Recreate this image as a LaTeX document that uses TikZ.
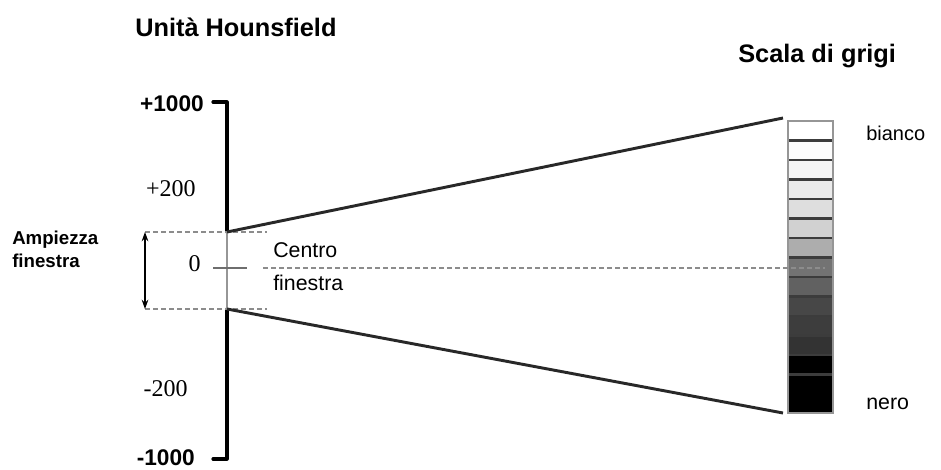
\documentclass[tikz,border=0pt]{standalone}
\usepackage{fontspec}
\setmainfont{Liberation Serif}
\setsansfont{Liberation Sans}
\usetikzlibrary{arrows.meta}

\tikzset{
  titlelabel/.style={font=\sffamily\bfseries\fontsize{19}{22}\selectfont, inner sep=0pt},
  hulabel/.style={font=\sffamily\bfseries\fontsize{17}{20}\selectfont, inner sep=0pt},
  numlabel/.style={font=\rmfamily\fontsize{18}{21}\selectfont, inner sep=0pt},
  smalllabel/.style={font=\sffamily\fontsize{16}{19}\selectfont, inner sep=0pt},
  axisline/.style={line width=2.4pt, line cap=round, line join=round},
  fanline/.style={line width=2.2pt, color={rgb,255:red,40;green,40;blue,40}},
  windowline/.style={dashed, dash pattern=on 4pt off 2pt, line width=0.9pt, color={rgb,255:red,140;green,140;blue,140}},
  graycell/.style={draw={rgb,255:red,60;green,60;blue,60}, line width=1.8pt}
}

\begin{document}
\begin{tikzpicture}[x=0.75pt,y=0.75pt,yscale=-1,xscale=1]
\useasboundingbox (0,0) rectangle (941,470);

%Titles
\node[titlelabel, anchor=base west] (hutitle) at (135,37) {Unità Hounsfield};
\node[titlelabel, anchor=base west] (graytitle) at (738,63) {Scala di grigi};

%Axis points
\coordinate (axtop) at (227,102);
\coordinate (axbot) at (227,459);
\coordinate (wtop) at (227,232);
\coordinate (wbot) at (227,309);
\coordinate (hooktop) at (213,102);
\coordinate (hookbot) at (213,459);

%Axis
\draw [axisline] (hooktop) -- (axtop) -- (wtop) ;
\draw [axisline] (wbot) -- (axbot) -- (hookbot) ;
\draw [line width=1pt, color={rgb,255:red,150;green,150;blue,150}] (wtop) -- (wbot) ;

%Axis labels
\node[hulabel, anchor=east] (hp1000) at (204,104) {+1000};
\node[numlabel, anchor=east] (hp200) at (196,189) {+200};
\node[numlabel, anchor=east] (hzero) at (201,264) {0};
\node[numlabel, anchor=east] (hm200) at (188,389) {-200};
\node[hulabel, anchor=east] (hm1000) at (195,458) {-1000};

%Window
\coordinate (wtopl) at (145,232);
\coordinate (wtopr) at (267,232);
\coordinate (wbotl) at (145,309);
\coordinate (wbotr) at (267,309);
\draw [windowline] (wtopl) -- (wtopr) ;
\draw [windowline] (wbotl) -- (wbotr) ;
\draw [{Stealth[length=7pt,width=5pt]}-{Stealth[length=7pt,width=5pt]}, line width=1pt] (wtopl) -- (wbotl) ;
\node[font=\sffamily\bfseries\fontsize{14}{17}\selectfont, align=left, inner sep=0pt, anchor=north west] (ampiezza) at (12,231) {Ampiezza\\finestra};

%Centre tick and line
\coordinate (ctickl) at (213,268);
\coordinate (ctickr) at (247,268);
\draw [line width=2pt, color={rgb,255:red,110;green,110;blue,110}] (ctickl) -- (ctickr) ;
\node[smalllabel, anchor=west] (centro) at (273,250) {Centro};
\node[smalllabel, anchor=west] (finestra) at (273,283) {finestra};

%Gray scale
\foreach \g [count=\i from 0] in {100,99,96,92,87,82,68,45,38,28,24,20,0} {
  \draw [graycell, fill=white!\g!black] (788,121+\i*19.5) rectangle (833,140.5+\i*19.5) ;
}
\draw [graycell, fill=black] (788,374.5) rectangle (833,413) ;
\draw [line width=1.2pt, color={rgb,255:red,150;green,150;blue,150}] (788,121) rectangle (833,413) ;
\coordinate (bartop) at (783,118);
\coordinate (barbot) at (783,413);
\coordinate (barmid) at (825,268);
\coordinate (cstart) at (263,268);
\draw [windowline] (cstart) -- (barmid) ;

%Fan lines
\draw [fanline] (wtop) -- (bartop) ;
\draw [fanline] (wbot) -- (barbot) ;

%Gray labels
\node[smalllabel, font=\sffamily\fontsize{15}{18}\selectfont, anchor=west] (bianco) at (866,133) {bianco};
\node[smalllabel, anchor=west] (nero) at (866,404) {nero};

\end{tikzpicture}
\end{document}
